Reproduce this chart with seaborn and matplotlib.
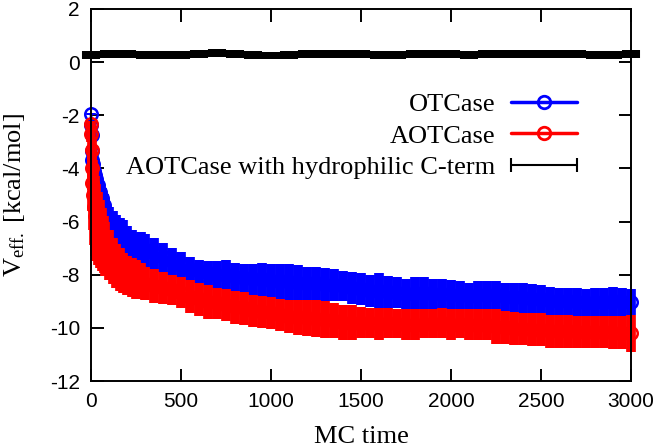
import numpy as np
import matplotlib
matplotlib.use("Agg")
import matplotlib.pyplot as plt
import seaborn as sns
from matplotlib.lines import Line2D
from matplotlib.legend_handler import HandlerLine2D

# ---------------- data ----------------
mc_time = [0, 2, 4, 6, 8, 10, 15, 20, 30, 40, 50, 60, 70, 80, 100, 120, 140, 160,
           180, 200, 225, 250, 275, 300,
           350, 400, 450, 500, 550, 600, 650, 700, 750, 800, 850, 900, 950, 1000,
           1050, 1100, 1150, 1200, 1250, 1300, 1350, 1400, 1450, 1500,
           1550, 1600, 1650, 1700, 1750, 1800, 1850, 1900, 1950, 2000,
           2050, 2100, 2150, 2200, 2250, 2300, 2350, 2400, 2450, 2500,
           2550, 2600, 2650, 2700, 2750, 2800, 2850, 2900, 2950, 3000]

# OTCase: upper / lower ends of the error bars
otcase_hi = [-1.9, -2.2, -2.6, -3.1, -3.35, -3.5, -3.8, -4.0, -4.2, -4.35, -4.55, -4.75,
             -4.95, -5.1, -5.45, -5.6, -5.75, -5.85, -5.95, -6.15, -6.3, -6.45, -6.4, -6.45,
             -6.6, -6.8, -7.0, -7.15, -7.35, -7.45, -7.5, -7.5, -7.45, -7.55, -7.6, -7.6, -7.55, -7.6,
             -7.6, -7.6, -7.65, -7.7, -7.7, -7.75, -7.8, -7.85, -7.9, -7.95,
             -8.0, -7.95, -8.05, -8.1, -8.15, -8.1, -8.1, -8.15, -8.15, -8.2,
             -8.25, -8.3, -8.25, -8.25, -8.25, -8.3, -8.3, -8.3, -8.35, -8.4,
             -8.45, -8.5, -8.5, -8.5, -8.55, -8.5, -8.5, -8.45, -8.5, -8.55]
otcase_lo = [-2.0, -2.5, -2.9, -3.6, -4.0, -4.2, -4.4, -4.5, -4.6, -4.9, -5.2, -5.5,
             -5.8, -6.0, -6.3, -6.6, -6.85, -7.0, -7.2, -7.3, -7.38, -7.45, -7.55, -7.7,
             -7.8, -7.9, -8.0, -8.1, -8.2, -8.3, -8.4, -8.5, -8.55, -8.6, -8.65, -8.75, -8.8, -8.85,
             -8.9, -8.95, -8.95, -8.95, -8.95, -9.0, -9.0, -9.0, -9.1, -9.15,
             -9.2, -9.25, -9.25, -9.25, -9.3, -9.3, -9.3, -9.3, -9.3, -9.3,
             -9.3, -9.3, -9.3, -9.3, -9.3, -9.35, -9.4, -9.45, -9.45, -9.45,
             -9.5, -9.5, -9.5, -9.55, -9.55, -9.55, -9.55, -9.55, -9.55, -9.5]

# AOTCase: upper / lower ends of the error bars
aotcase_hi = [-2.2, -2.4, -2.8, -3.2, -3.5, -3.7, -4.0, -4.3, -4.6, -4.9, -5.2, -5.5,
              -5.8, -6.0, -6.3, -6.6, -6.85, -7.0, -7.2, -7.3, -7.38, -7.45, -7.55, -7.7,
              -7.8, -7.9, -8.0, -8.1, -8.2, -8.3, -8.4, -8.5, -8.55, -8.6, -8.65, -8.75, -8.8, -8.85,
              -8.9, -8.95, -8.95, -8.95, -8.95, -9.0, -9.05, -9.15, -9.15, -9.2,
              -9.25, -9.25, -9.25, -9.3, -9.3, -9.3, -9.3, -9.3, -9.25, -9.3,
              -9.3, -9.3, -9.3, -9.3, -9.3, -9.35, -9.4, -9.45, -9.45, -9.45,
              -9.5, -9.5, -9.5, -9.55, -9.55, -9.55, -9.55, -9.55, -9.55, -9.5]
aotcase_lo = [-2.45, -3.0, -3.8, -4.8, -5.6, -6.3, -6.9, -7.3, -7.5, -7.65, -7.75, -7.85,
              -7.95, -8.05, -8.2, -8.35, -8.5, -8.6, -8.7, -8.78, -8.85, -8.9, -8.93, -8.97,
              -9.05, -9.1, -9.15, -9.25, -9.45, -9.55, -9.65, -9.65, -9.75, -9.85, -9.88, -9.95, -10.0, -10.05,
              -10.1, -10.2, -10.25, -10.3, -10.35, -10.4, -10.4, -10.45, -10.45, -10.4,
              -10.4, -10.45, -10.4, -10.4, -10.45, -10.45, -10.4, -10.4, -10.4, -10.45,
              -10.4, -10.45, -10.45, -10.45, -10.6, -10.6, -10.65, -10.65, -10.7, -10.7,
              -10.75, -10.75, -10.75, -10.75, -10.75, -10.75, -10.75, -10.8, -10.8, -10.9]

# AOTCase with hydrophilic C-term
hydro_time = [0, 100, 200, 300, 400, 500, 600, 700, 800, 900, 1000, 1100, 1200, 1300,
              1400, 1500, 1600, 1700, 1800, 1900, 2000, 2100, 2200, 2300, 2400, 2500,
              2600, 2700, 2800, 2900, 3000]
hydro_mean = [0.28, 0.32, 0.30, 0.27, 0.26, 0.28, 0.31, 0.33, 0.30, 0.27, 0.25, 0.28,
              0.30, 0.32, 0.30, 0.29, 0.27, 0.26, 0.29, 0.31, 0.30, 0.28, 0.30, 0.32,
              0.29, 0.30, 0.31, 0.29, 0.27, 0.28, 0.30]
hydro_err = [0.15] * len(hydro_time)

labels = ["OTCase", "AOTCase", "AOTCase with hydrophilic C-term"]
x_ticks = [0, 500, 1000, 1500, 2000, 2500, 3000]
y_ticks = [-12, -10, -8, -6, -4, -2, 0, 2]

# ---------------- style ----------------
sns.set_style("ticks")
plt.rcParams.update({
    "font.family": ["Liberation Serif", "DejaVu Serif"],
    "mathtext.fontset": "custom",
    "mathtext.rm": "Liberation Serif",
    "mathtext.it": "Liberation Serif:italic",
    "mathtext.bf": "Liberation Serif:bold",
    "axes.unicode_minus": False,
    "axes.edgecolor": "black",
    "axes.labelcolor": "black",
    "text.color": "black",
    "xtick.color": "black",
    "ytick.color": "black",
})

W, H = 654, 448
fig = plt.figure(figsize=(W / 100, H / 100), dpi=100)
ax = fig.add_axes([91 / W, 1 - 381 / H, 540 / W, 372 / H])

t = np.array(mc_time, dtype=float)


def draw_series(hi, lo, color, z):
    hi = np.array(hi)
    lo = np.array(lo)
    mean = (hi + lo) / 2
    err = (hi - lo) / 2
    eb = ax.errorbar(t, mean, yerr=err, fmt="none", ecolor=color,
                     elinewidth=7, capsize=0, zorder=z)
    for c in eb[2]:
        c.set_clip_on(False)
    sns.lineplot(x=t, y=mean, color=color, lw=2, marker="o", markersize=9,
                 markerfacecolor="none", markeredgecolor=color,
                 markeredgewidth=1.8, errorbar=None, ax=ax, zorder=z + 0.1,
                 clip_on=False)


draw_series(otcase_hi, otcase_lo, "#0000ff", 3)
draw_series(aotcase_hi, aotcase_lo, "#ff0000", 4)

eb = ax.errorbar(hydro_time, hydro_mean, yerr=hydro_err, fmt="none", ecolor="black",
                 elinewidth=13, capsize=0, zorder=5)
for c in eb[2]:
    c.set_clip_on(False)

ax.set_xlim(0, 3000)
ax.set_ylim(-12, 2)
ax.set_xticks(x_ticks)
ax.set_yticks(y_ticks)
ax.tick_params(direction="in", length=9, width=1.4, top=True, right=True,
               labelsize=15, pad=8, labelfontfamily="Liberation Sans")
for s in ax.spines.values():
    s.set_linewidth(1.4)
    s.set_color("black")
    s.set_zorder(6)

ax.set_xlabel("MC time", fontsize=19)
ax.xaxis.set_label_coords(0.5, -0.122)
ax.set_ylabel(r"V$_{\mathrm{eff.}}$ [kcal/mol]", fontsize=19)
ax.yaxis.set_label_coords(-0.118, 0.5)

h1 = Line2D([], [], color="#0000ff", lw=2.5, marker="o", ms=9, mfc="none", mew=2)
h2 = Line2D([], [], color="#ff0000", lw=2.5, marker="o", ms=9, mfc="none", mew=2)
h3 = Line2D([], [], color="black", lw=1.5, marker="|", ms=10, mew=1.5)
ax.legend([h1, h2, h3], labels, loc="upper right", bbox_to_anchor=(0.9, 0.775),
          frameon=False, markerfirst=False, handlelength=2.5, handletextpad=0.6,
          labelspacing=0.3, borderpad=0, borderaxespad=0, fontsize=19, numpoints=1,
          handler_map={h3: HandlerLine2D(numpoints=2, marker_pad=0)})

fig.savefig("out.png", dpi=100)
